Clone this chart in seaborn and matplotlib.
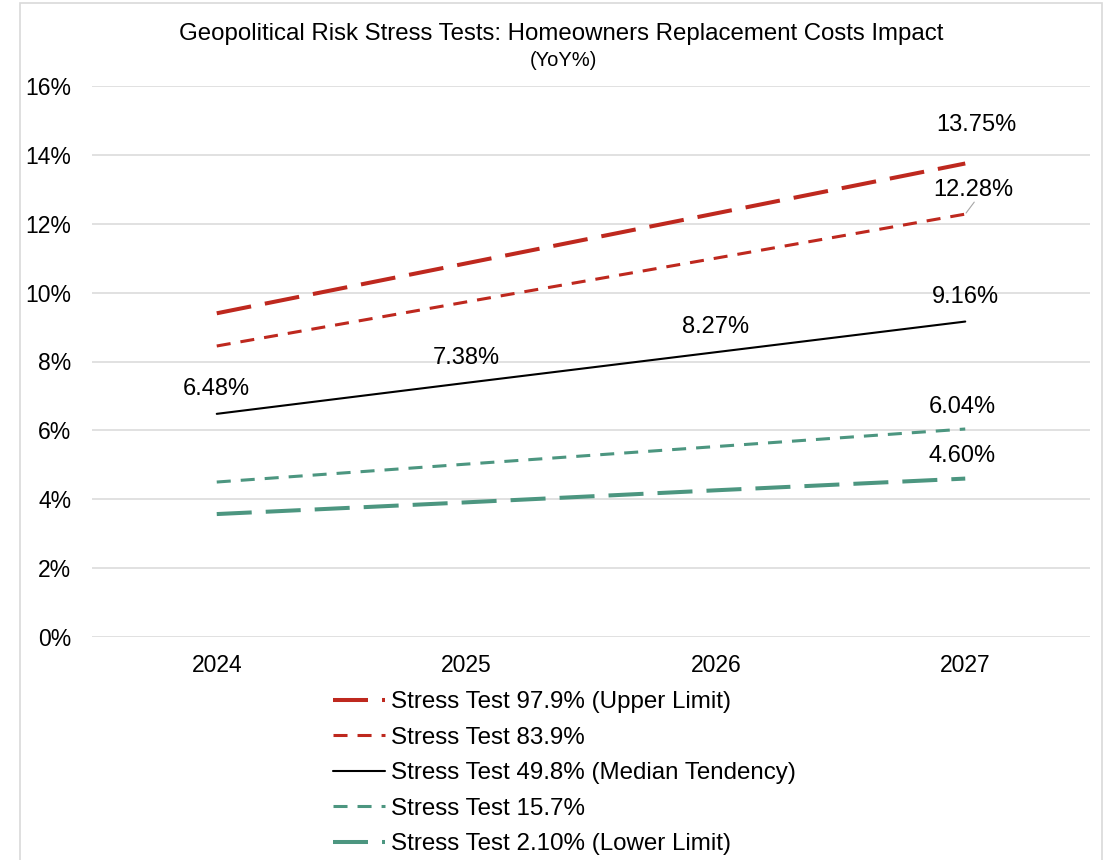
import matplotlib
matplotlib.use("Agg")
import matplotlib.pyplot as plt
from matplotlib.patches import Rectangle
import pandas as pd
import seaborn as sns

# Forecast years and the five stress-test paths (YoY %)
years = ["2024", "2025", "2026", "2027"]
upper_979 = [9.40, 10.85, 12.30, 13.75]
test_839 = [8.45, 9.73, 11.00, 12.28]
median_498 = [6.48, 7.38, 8.27, 9.16]
test_157 = [4.50, 5.02, 5.53, 6.04]
lower_210 = [3.57, 3.91, 4.26, 4.60]

series_names = [
    "Stress Test 97.9% (Upper Limit)",
    "Stress Test 83.9%",
    "Stress Test 49.8% (Median Tendency)",
    "Stress Test 15.7%",
    "Stress Test 2.10% (Lower Limit)",
]
series_values = [upper_979, test_839, median_498, test_157, lower_210]

RED = "#BE281E"
TEAL = "#4C9680"
LONG = (25.2, 10.1)
SHORT = (10.1, 7.2)
styles = {
    series_names[0]: dict(color=RED, lw=2.9, dashes=LONG),
    series_names[1]: dict(color=RED, lw=2.2, dashes=SHORT),
    series_names[2]: dict(color="black", lw=1.5, dashes=None),
    series_names[3]: dict(color=TEAL, lw=2.2, dashes=SHORT),
    series_names[4]: dict(color=TEAL, lw=2.9, dashes=LONG),
}

df = pd.DataFrame(
    [(name, i, yr, v / 100.0)
     for name, vals in zip(series_names, series_values)
     for i, (yr, v) in enumerate(zip(years, vals))],
    columns=["series", "pos", "year", "value"],
)

sns.set_theme(style="white")
plt.rcParams["font.family"] = ["Liberation Sans", "DejaVu Sans"]
plt.rcParams["lines.scale_dashes"] = False
plt.rcParams["text.color"] = "black"
plt.rcParams["xtick.color"] = "black"
plt.rcParams["ytick.color"] = "black"

W, H = 1107, 860
fig = plt.figure(figsize=(W / 100, H / 100), dpi=100)
ax = fig.add_axes([92 / W, 1 - 637 / H, (1090 - 92) / W, (637 - 86) / H])

for name in series_names:
    st = styles[name]
    sub = df[df["series"] == name]
    sns.lineplot(data=sub, x="pos", y="value", ax=ax, color=st["color"],
                 linewidth=st["lw"], label=name, legend=False)
    line = ax.get_lines()[-1]
    if st["dashes"] is not None:
        line.set_dashes(st["dashes"])
    line.set_dash_capstyle("butt")

ax.set_xlim(-0.5, len(years) - 0.5)
ax.set_ylim(0, 0.16)
ax.set_xticks(range(len(years)))
ax.set_xticklabels(years)
ax.set_yticks([i / 100 for i in range(0, 17, 2)])
ax.set_yticklabels([f"{i}%" for i in range(0, 17, 2)])
ax.tick_params(axis="both", labelsize=16.5, length=0, colors="black")
ax.tick_params(axis="y", pad=15)
ax.tick_params(axis="x", pad=12)
ax.set_xlabel("")
ax.set_ylabel("")
ax.grid(axis="y", color="#D9D9D9", linewidth=1.1)
ax.set_axisbelow(True)
for side in ["left", "right", "top", "bottom"]:
    ax.spines[side].set_visible(False)

# Value labels
lab_fs = 17
for i, v in enumerate(median_498):
    ax.annotate(f"{v:.2f}%", (i, v / 100), xytext=(0, 25), textcoords="offset pixels",
                ha="center", va="center", fontsize=lab_fs)
last = len(years) - 1
end_labels = [
    (upper_979[-1], 11, 38),
    (test_839[-1], 8, 24),
    (test_157[-1], -3, 22),
    (lower_210[-1], -3, 23),
]
for v, dx, dy in end_labels:
    ax.annotate(f"{v:.2f}%", (last, v / 100), xytext=(dx, dy), textcoords="offset pixels",
                ha="center", va="center", fontsize=lab_fs)
# leader line for the 83.9% label
ax.annotate("", xy=(last, test_839[-1] / 100), xytext=(9, 12), textcoords="offset pixels",
            arrowprops=dict(arrowstyle="-", color="#A6A6A6", lw=0.8, shrinkA=0, shrinkB=1))

# Titles
fig.text(561 / W, 1 - 34 / H, "Geopolitical Risk Stress Tests: Homeowners Replacement Costs Impact",
         ha="center", va="center", fontsize=17.3)
fig.text(563 / W, 1 - 60 / H, "(YoY%)", ha="center", va="center", fontsize=14.5)

# Legend below the plot
handles = ax.get_lines()[:5]
fig.legend(handles, series_names, loc="upper left",
           bbox_to_anchor=(333 / W, 1 - 691 / H), frameon=False, fontsize=17.4,
           handlelength=2.15, handletextpad=0.25, labelspacing=0.56, borderpad=0,
           borderaxespad=0)

# Chart-area border
fig.patches.append(Rectangle((20 / W, -0.05), (1102 - 20) / W, 1.05 - 3 / H,
                             transform=fig.transFigure, fill=False,
                             edgecolor="#D9D9D9", linewidth=1.2))

fig.savefig("out.png", dpi=100)
